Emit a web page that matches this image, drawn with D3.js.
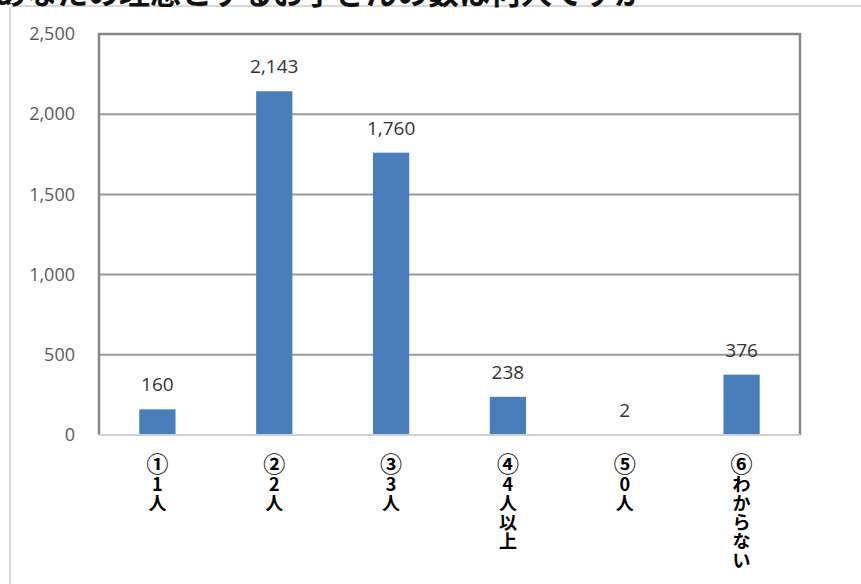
<!DOCTYPE html>
<html><head><meta charset="utf-8">
<script src="https://cdn.jsdelivr.net/npm/d3@7"></script>
<style>html,body{margin:0;padding:0;background:#fff;overflow:hidden}</style>
</head><body>
<svg id="c" width="861" height="584"></svg>
<script>
const title = "あなたの理想とするお子さんの数は何人ですか";
const categories = ["①1人","②2人","③3人","④4人以上","⑤0人","⑥わからない"];
const values = [160, 2143, 1760, 238, 2, 376];
const yTicks = [0, 500, 1000, 1500, 2000, 2500];

const svg = d3.select("#c");
const m = {left: 99, right: 800, top: 34, bottom: 435};

// outer chart frame
svg.append("rect").attr("x", 10).attr("y", 6).attr("width", 900).attr("height", 700)
  .attr("rx", 4).attr("fill", "none").attr("stroke", "#d9d9d9").attr("stroke-width", 2);

// title (cut off at top)
svg.append("text").attr("x", -5).attr("y", 4).text(title)
  .attr("font-family", "Noto Sans CJK JP").attr("font-weight", "bold")
  .attr("font-size", 31).attr("fill", "#111");

const x = d3.scaleBand().domain(categories).range([m.left, m.right]).paddingInner(0.69).paddingOuter(0.345);
const y = d3.scaleLinear().domain([0, 2500]).range([m.bottom, m.top]);

// gridlines
svg.append("g").selectAll("line").data(yTicks.filter(d => d > 0)).join("line")
  .attr("x1", m.left).attr("x2", m.right).attr("y1", d => y(d)).attr("y2", d => y(d))
  .attr("stroke", "#9a9a9a").attr("stroke-width", 2);

// plot border left/right/top
svg.append("path")
  .attr("d", `M${m.left},${m.bottom}V${m.top}H${m.right}V${m.bottom}`)
  .attr("fill", "none").attr("stroke", "#888").attr("stroke-width", 2.5);

// bars
svg.append("g").selectAll("rect").data(values).join("rect")
  .attr("x", (d, i) => x(categories[i])).attr("width", x.bandwidth())
  .attr("y", d => y(d)).attr("height", d => y(0) - y(d))
  .attr("fill", "#4a7ebb");

// baseline
svg.append("line").attr("x1", m.left).attr("x2", m.right).attr("y1", y(0)).attr("y2", y(0))
  .attr("stroke", "#d0d0d0").attr("stroke-width", 2);

// y axis labels
const yAxis = d3.axisLeft(y).tickValues(yTicks).tickFormat(d3.format(",")).tickSize(0).tickPadding(24);
const ga = svg.append("g").attr("transform", `translate(${m.left},0)`).call(yAxis);
ga.select(".domain").remove();
ga.selectAll("text").attr("font-family", "Open Sans").attr("font-size", 18).attr("fill", "#595959");

// value labels
svg.append("g").selectAll("text").data(values).join("text")
  .attr("x", (d, i) => x(categories[i]) + x.bandwidth() / 2)
  .attr("y", d => y(d) - 18)
  .attr("text-anchor", "middle")
  .attr("font-family", "Open Sans").attr("font-size", 19).attr("fill", "#333")
  .text(d3.format(","));

// x category labels (vertical stacked)
const gx = svg.append("g");
categories.forEach((c, i) => {
  const cx = x(c) + x.bandwidth() / 2;
  const t = gx.append("text").attr("text-anchor", "middle")
    .attr("font-family", "Noto Sans CJK JP").attr("font-weight", "bold")
    .attr("font-size", 18).attr("fill", "#000");
  Array.from(c).forEach((ch, k) => {
    const sp = t.append("tspan").attr("x", cx).attr("y", 472 + k * 19).text(ch);
    if (k === 0) sp.attr("font-size", 22);
  });
});
</script>
</body></html>
